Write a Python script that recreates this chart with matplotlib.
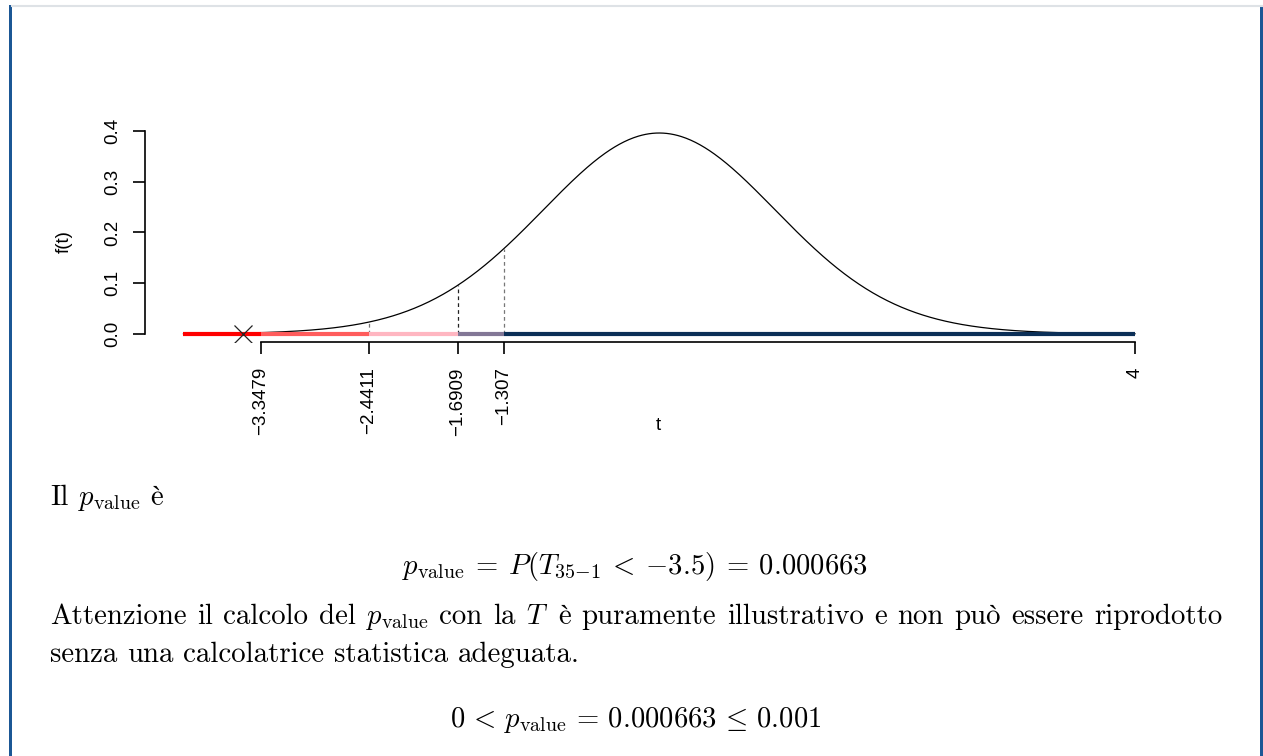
import math
import numpy as np
import matplotlib
matplotlib.use("Agg")
import matplotlib.pyplot as plt
from matplotlib.lines import Line2D
from matplotlib.patches import Rectangle, PathPatch
from matplotlib.textpath import TextPath
from matplotlib.font_manager import FontProperties
from matplotlib.transforms import Affine2D, IdentityTransform

plt.rcParams["mathtext.fontset"] = "cm"

# t distribution with 35-1 degrees of freedom
df = 34
t_obs = -3.5
crit = [-3.3479, -2.4411, -1.6909, -1.307]
crit_labels = ["\u22123.3479", "\u22122.4411", "\u22121.6909", "\u22121.307", "4"]
t_min, t_max = -4, 4
seg_edges = [-4, -3.3479, -2.4411, -1.6909, -1.307, 4]
seg_colors = ["#ff0000", "#ff5c5c", "#ffb6c1", "#827796", "#0b2f57"]
vline_colors = ["#555555", "#777777", "#222222", "#777777"]
y_ticks = [0.0, 0.1, 0.2, 0.3, 0.4]


def tpdf(x, k):
    c = math.exp(math.lgamma((k + 1) / 2) - math.lgamma(k / 2)) / math.sqrt(k * math.pi)
    return c * (1 + x ** 2 / k) ** (-(k + 1) / 2)


W, H = 1263, 756
fig = plt.figure(figsize=(W / 100, H / 100), dpi=100)
fig.patch.set_facecolor("white")

# callout frame
fig.add_artist(Line2D([12 / W, 1.0], [1 - 6 / H] * 2, color="#dee2e6", lw=1.5))
fig.add_artist(Rectangle((9 / W, 0), 3.5 / W, 1 - 5 / H, color="#1b5795", lw=0))
fig.add_artist(Rectangle((1259.5 / W, 0), 3.5 / W, 1 - 5 / H, color="#1b5795", lw=0))

# plot region (R-like, 4% extension)
L, R_, B, T = 145.4, 1173, 342, 125
ax = fig.add_axes([L / W, 1 - B / H, (R_ - L) / W, (B - T) / H])
ax.set_xlim(-4.32, 4.32)
ax.set_ylim(-0.0158, 0.4118)

xs = np.linspace(t_min, t_max, 800)
ys = np.array([tpdf(v, df) for v in xs])
ax.plot(xs, ys, color="black", lw=0.9)

for c, col in zip(crit, vline_colors):
    ax.plot([c, c], [0, tpdf(c, df)], color=col, lw=0.9, ls=(0, (3, 2.5)))

for i, col in enumerate(seg_colors):
    ax.plot([seg_edges[i], seg_edges[i + 1]], [0, 0], color=col, lw=3,
            solid_capstyle="butt")

ax.plot([t_obs], [0], marker="x", ms=13, mew=0.9, color="#222222")

for s in ["top", "right"]:
    ax.spines[s].set_visible(False)
ax.spines["left"].set_bounds(0, 0.4)
ax.spines["bottom"].set_bounds(crit[0], 4)
for s in ["left", "bottom"]:
    ax.spines[s].set_linewidth(1.2)

ax.set_xticks(crit + [4])
ax.set_xticklabels(crit_labels, rotation=90, va="top")
ax.set_yticks(y_ticks)
ax.set_yticklabels([f"{v:.1f}" for v in y_ticks], rotation=90, va="center")
ax.tick_params(axis="x", length=8.6, width=1.2, pad=9.5, labelsize=13.5)
ax.tick_params(axis="y", length=8.6, width=1.2, pad=9, labelsize=13.5)
for lab in ax.get_xticklabels() + ax.get_yticklabels():
    lab.set_fontfamily("Liberation Sans")

fig.text(658 / W, 1 - 426 / H, "t", ha="center", va="center",
         fontsize=13.5, family="Liberation Sans")
fig.text(64 / W, 1 - 242 / H, "f(t)", ha="center", va="center", rotation=90,
         fontsize=13.5, family="Liberation Sans")

# text below (LaTeX-like, body text justified)
fs = 20.8     # body text
fm = 20.6     # math
serif = "cmr10"
renderer = fig.canvas.get_renderer()
space = 0.333 * fs * 100 / 72
x_left, x_right = 50, 1222
accents = {"è": "e", "ò": "o"}
grave_fp = FontProperties(family="Liberation Serif")


def text_width(s, size):
    t = fig.text(0, 0, s, fontsize=size, family=serif)
    w = t.get_window_extent(renderer).width
    t.remove()
    return w


def add_grave(xc, y, size):
    # grave accent drawn as a path, centred on xc (pixels from left), baseline y
    p = TextPath((0, 0), "`", size=size * 100 / 72, prop=grave_fp)
    ext = p.get_extents()
    tr = Affine2D().translate(xc - (ext.x0 + ext.x1) / 2, H - y - 1)
    fig.add_artist(PathPatch(tr.transform_path(p), transform=IdentityTransform(),
                             color="black", lw=0))


def put_line(tokens, x0, y, width=None):
    arts, marks = [], []
    for s, size in tokens:
        plain, mark = s, None
        for k, v in accents.items():
            if k in s and not s.startswith("$"):
                i = s.index(k)
                plain = s.replace(k, v)
                left = text_width(s[:i], size) if i else 0
                mark = (left + text_width(v, size) / 2, size)
        arts.append(fig.text(0, 1 - y / H, plain, ha="left", va="baseline",
                             fontsize=size, family=serif))
        marks.append(mark)
    ws = [a.get_window_extent(renderer).width for a in arts]
    gap = space
    if width is not None and len(arts) > 1:
        gap = (width - sum(ws)) / (len(arts) - 1)
    x = x0
    for a, w, m in zip(arts, ws, marks):
        a.set_x(x / W)
        if m is not None:
            add_grave(x + m[0] - 0.5, y, m[1])
        x += w + gap


def put_center(s, xc, y, size):
    fig.text(xc / W, 1 - y / H, s, ha="center", va="baseline",
             fontsize=size, family=serif)


pv = r"$p_{\mathrm{value}}$"
put_line([("Il", fs), (pv, fm), ("è", fs)], x_left, 505)

put_center(r"$p_{\mathrm{value}}\:=\:P(T_{35{-}1}\:<\:{-}3.5)\:=\:0.000663$",
           635, 574, fm)

line3 = ["Attenzione", "il", "calcolo", "del", pv, "con", "la", "$T$",
         "è", "puramente", "illustrativo", "e", "non", "può", "essere",
         "riprodotto"]
put_line([(w, fm if w in (pv, "$T$") else fs) for w in line3], x_left, 624,
         width=x_right - x_left)
put_line([(w, fs) for w in "senza una calcolatrice statistica adeguata.".split()],
         x_left, 662)

put_center(r"$0\,<\,p_{\mathrm{value}}\,=\,0.000663\,\leq\,0.001$", 636, 727, fm)

fig.savefig("out.png", dpi=100)
